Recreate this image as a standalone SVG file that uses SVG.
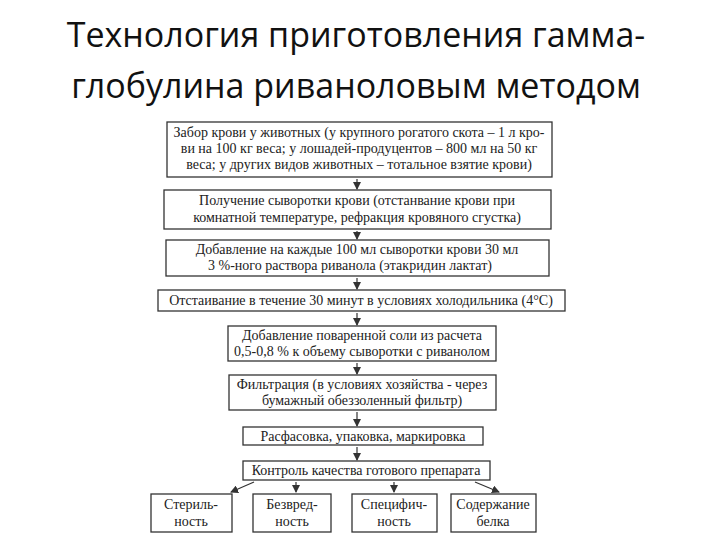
<svg xmlns="http://www.w3.org/2000/svg" width="720" height="540" viewBox="0 0 720 540">
<style>
.t{font-family:"Open Sans","Liberation Sans",sans-serif;font-size:34px;fill:#111;text-anchor:middle}
.b{fill:#fff;stroke:#333;stroke-width:1.3}
.x{font-family:"Liberation Serif",serif;font-size:14px;fill:#222;text-anchor:middle}
.c{stroke:#333;stroke-width:1.2;fill:none}
</style>
<defs><marker id="a" markerWidth="8" markerHeight="8" refX="7" refY="4" orient="auto" markerUnits="userSpaceOnUse"><path d="M0,0 L8,4 L0,8 Z" fill="#333"/></marker></defs>
<rect width="720" height="540" fill="#fff"/>
<text class="t" x="356" y="47">Технология приготовления гамма-</text>
<text class="t" x="356" y="98">глобулина риваноловым методом</text>
<g id="connectors">
<path class="c" d="M357,179 V189" marker-end="url(#a)"/>
<path class="c" d="M357,231 V239" marker-end="url(#a)"/>
<path class="c" d="M357,278 V289" marker-end="url(#a)"/>
<path class="c" d="M357,313 V325" marker-end="url(#a)"/>
<path class="c" d="M357,363 V374" marker-end="url(#a)"/>
<path class="c" d="M357,412 V426" marker-end="url(#a)"/>
<path class="c" d="M357,447 V460" marker-end="url(#a)"/>
<path class="c" d="M254,482 L231,492" marker-end="url(#a)"/>
<path class="c" d="M296,482 V492" marker-end="url(#a)"/>
<path class="c" d="M394,482 V492" marker-end="url(#a)"/>
<path class="c" d="M475,482 L499,492" marker-end="url(#a)"/>
</g>
<g id="n1"><rect class="b" x="167" y="122" width="385" height="55"/>
<text class="x" x="359" y="137">Забор крови у  животных (у крупного рогатого скота – 1 л кро-</text>
<text class="x" x="359" y="153">ви на 100 кг веса; у лошадей-продуцентов – 800 мл на 50 кг</text>
<text class="x" x="359" y="169">веса; у других видов животных – тотальное взятие крови)</text></g>
<g id="n2"><rect class="b" x="164" y="190" width="387" height="39"/>
<text class="x" x="357" y="205">Получение сыворотки крови (отстанвание крови при</text>
<text class="x" x="357" y="222">комнатной температуре, рефракция кровяного сгустка)</text></g>
<g id="n3"><rect class="b" x="166" y="240" width="383" height="36"/>
<text class="x" x="357" y="254">Добавление на каждые 100 мл сыворотки крови  30 мл</text>
<text class="x" x="350" y="270">3 %-ного  раствора риванола (этакридин лактат)</text></g>
<g id="n4"><rect class="b" x="158" y="290" width="407" height="21"/>
<text class="x" x="361" y="305">Отстаивание в течение 30 минут в условиях холодильника (4°С)</text></g>
<g id="n5"><rect class="b" x="228" y="326" width="268" height="35"/>
<text class="x" x="362" y="340">Добавление поваренной соли из расчета</text>
<text class="x" x="362" y="356">0,5-0,8 % к объему сыворотки с риванолом</text></g>
<g id="n6"><rect class="b" x="229" y="375" width="267" height="35"/>
<text class="x" x="362" y="389">Фильтрация (в условиях хозяйства - через</text>
<text class="x" x="362" y="405">бумажный обеззоленный фильтр)</text></g>
<g id="n7"><rect class="b" x="243" y="427" width="240" height="18"/>
<text class="x" x="363" y="441">Расфасовка, упаковка, маркировка</text></g>
<g id="n8"><rect class="b" x="243" y="461" width="247" height="19"/>
<text class="x" x="366" y="475">Контроль качества готового препарата</text></g>
<g id="n9"><rect class="b" x="151" y="494" width="81" height="38"/>
<text class="x" x="191" y="509">Стериль-</text><text class="x" x="191" y="526">ность</text></g>
<g id="n10"><rect class="b" x="253" y="494" width="78" height="38"/>
<text class="x" x="292" y="509">Безвред-</text><text class="x" x="292" y="526">ность</text></g>
<g id="n11"><rect class="b" x="352" y="494" width="85" height="38"/>
<text class="x" x="394" y="509">Специфич-</text><text class="x" x="394" y="526">ность</text></g>
<g id="n12"><rect class="b" x="451" y="494" width="85" height="38"/>
<text class="x" x="493" y="509">Содержание</text><text class="x" x="493" y="526">белка</text></g>
</svg>
